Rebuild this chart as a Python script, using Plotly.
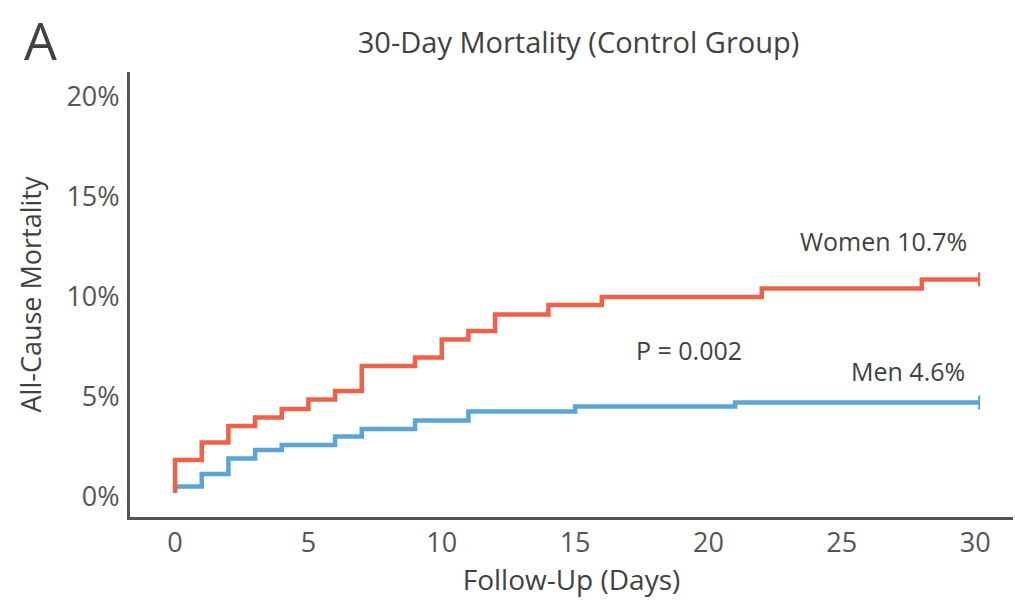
import plotly.graph_objects as go

# Data (days, cumulative mortality in %)
women_days = [0, 0, 1, 2, 3, 4, 5, 6, 7, 9, 10, 11, 12, 14, 16, 22, 28, 30.15]
women_vals = [0.2, 1.85, 2.73, 3.55, 3.98, 4.4, 4.88, 5.3, 6.55, 6.98, 7.88, 8.3, 9.13, 9.6, 10.0, 10.43, 10.88, 10.88]

men_days = [0, 1, 2, 3, 4, 6, 7, 9, 11, 15, 21, 30.15]
men_vals = [0.52, 1.15, 1.93, 2.35, 2.6, 3.02, 3.4, 3.82, 4.27, 4.52, 4.72, 4.72]

x_ticks = [0, 5, 10, 15, 20, 25, 30]
y_ticks = [0, 5, 10, 15, 20]

RED = "#f0614a"
BLUE = "#5aa5d8"
GRAY = "#555555"
TXT = "#414141"
FONT = "Open Sans"

fig = go.Figure()
fig.add_trace(go.Scatter(x=men_days, y=men_vals, mode="lines", line=dict(color=BLUE, width=4.5, shape="hv"),
                         showlegend=False, hoverinfo="skip"))
fig.add_trace(go.Scatter(x=women_days, y=women_vals, mode="lines", line=dict(color=RED, width=4.5, shape="hv"),
                         showlegend=False, hoverinfo="skip"))
# censor marks at end
fig.add_trace(go.Scatter(x=[men_days[-1]], y=[men_vals[-1]], mode="markers",
                         marker=dict(symbol="line-ns", size=10, line=dict(color=BLUE, width=2)),
                         showlegend=False, hoverinfo="skip"))
fig.add_trace(go.Scatter(x=[women_days[-1]], y=[women_vals[-1]], mode="markers",
                         marker=dict(symbol="line-ns", size=10, line=dict(color=RED, width=2)),
                         showlegend=False, hoverinfo="skip"))

annots = [
    dict(x=26.55, y=12.8, text="Women 10.7%"),
    dict(x=19.27, y=7.35, text="P = 0.002"),
    dict(x=27.5, y=6.3, text="Men 4.6%"),
]
for a in annots:
    fig.add_annotation(x=a["x"], y=a["y"], text=a["text"], showarrow=False,
                       font=dict(family=FONT, size=25, color=TXT), xanchor="center", yanchor="middle")

fig.add_annotation(x=-0.122, y=1.158, xref="paper", yref="paper", text="A", showarrow=False,
                   font=dict(family=FONT, size=52, color=TXT), xanchor="left", yanchor="top")

fig.update_layout(
    width=1015, height=601,
    margin=dict(l=130, r=2, t=72, b=84),
    paper_bgcolor="white", plot_bgcolor="white",
    title=dict(text="30-Day Mortality (Control Group)", x=0.57, xanchor="center", y=0.928, yanchor="middle",
               font=dict(family=FONT, size=29, color=TXT)),
    font=dict(family=FONT, color=GRAY),
)
fig.update_xaxes(range=[-1.69, 31.42], tickvals=x_ticks, ticktext=[str(v) for v in x_ticks],
                 showgrid=False, zeroline=False, showline=True, linecolor=GRAY, linewidth=3,
                 ticks="", tickfont=dict(family=FONT, size=27, color=GRAY), automargin=False,
                 ticklabelstandoff=0,
                 title=dict(text="Follow-Up (Days)", font=dict(family=FONT, size=28, color=TXT), standoff=6))
fig.update_yaxes(range=[-1.0, 21.25], tickvals=y_ticks, ticktext=[f"{v}%" for v in y_ticks],
                 showgrid=False, zeroline=False, showline=True, linecolor=GRAY, linewidth=3,
                 ticks="", tickfont=dict(family=FONT, size=27, color=GRAY), automargin=False,
                 ticklabelstandoff=2,
                 title=dict(text="All-Cause Mortality", font=dict(family=FONT, size=27, color=TXT), standoff=17))

fig.write_html("out.html", config={"displayModeBar": False},
               post_script="document.body.style.margin='0';")
